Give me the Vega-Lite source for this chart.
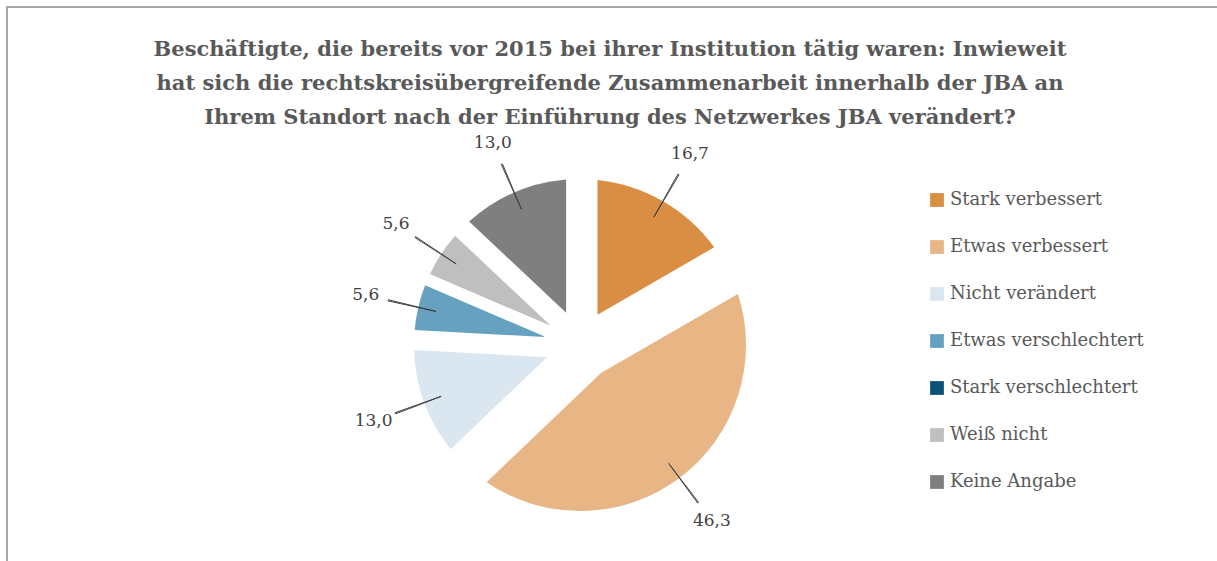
{
  "$schema": "https://vega.github.io/schema/vega-lite/v6.json",
  "width": 1260,
  "height": 600,
  "autosize": {"type": "none"},
  "padding": {"left": 7, "top": 7, "right": 0, "bottom": 0},
  "background": "white",
  "view": {"stroke": "#A6A6A6", "strokeWidth": 2, "fill": "white"},
  "title": {
    "text": [
      "Beschäftigte, die bereits vor 2015 bei ihrer Institution tätig waren: Inwieweit",
      "hat sich die rechtskreisübergreifende Zusammenarbeit innerhalb der JBA an",
      "Ihrem Standort nach der Einführung des Netzwerkes JBA verändert?"
    ],
    "font": "DejaVu Serif",
    "fontSize": 21,
    "fontWeight": "bold",
    "color": "#595959",
    "lineHeight": 34,
    "anchor": "middle",
    "frame": "group",
    "baseline": "top",
    "offset": -121,
    "dx": -27
  },
  "data": {
    "values": [
      {"kategorie": "Stark verbessert", "wert": 16.7, "rang": 1},
      {"kategorie": "Etwas verbessert", "wert": 46.3, "rang": 2},
      {"kategorie": "Nicht verändert", "wert": 13.0, "rang": 3},
      {"kategorie": "Etwas verschlechtert", "wert": 5.6, "rang": 4},
      {"kategorie": "Stark verschlechtert", "wert": 0, "rang": 5},
      {"kategorie": "Weiß nicht", "wert": 5.6, "rang": 6},
      {"kategorie": "Keine Angabe", "wert": 13.0, "rang": 7}
    ]
  },
  "encoding": {
    "theta": {"field": "wert", "type": "quantitative", "stack": true},
    "order": {"field": "rang", "type": "quantitative"}
  },
  "layer": [
    {
      "mark": {
        "type": "arc",
        "x": 573,
        "y": 338,
        "innerRadius": 35,
        "outerRadius": 166,
        "padAngle": {"expr": "2*asin(35*sin(PI*datum.wert/100.2)/sqrt(35*35+166*166))"}
      },
      "encoding": {
        "color": {
          "field": "kategorie",
          "type": "nominal",
          "scale": {
            "domain": ["Stark verbessert", "Etwas verbessert", "Nicht verändert", "Etwas verschlechtert", "Stark verschlechtert", "Weiß nicht", "Keine Angabe"],
            "range": ["#D98E43", "#E8B585", "#DAE7F0", "#66A2C0", "#0B5278", "#BFBFBF", "#7F7F7F"]
          },
          "legend": {
            "orient": "none",
            "legendX": 921,
            "legendY": 184,
            "title": null,
            "padding": 0,
            "symbolType": "square",
            "symbolSize": 190,
            "symbolStrokeWidth": 0,
            "labelFont": "DejaVu Serif",
            "labelFontSize": 18,
            "labelColor": "#595959",
            "labelOffset": 4,
            "labelLimit": 300,
            "rowPadding": 29
          }
        }
      }
    },
    {
      "transform": [{"filter": "datum.wert > 0"}],
      "mark": {
        "type": "arc",
        "x": 573,
        "y": 338,
        "innerRadius": 148,
        "outerRadius": 197,
        "fill": null,
        "stroke": "#404040",
        "strokeWidth": 1,
        "padAngle": {"expr": "2*asin(197*sin((2*PI*datum.wert/100.2 - 1.2/197)/2)/sqrt(148*148+197*197))"}
      }
    },
    {
      "transform": [{"filter": "datum.wert > 0"}],
      "mark": {
        "type": "text",
        "x": 573,
        "y": 338,
        "radius": 220,
        "font": "DejaVu Serif",
        "fontSize": 17,
        "color": "#404040"
      },
      "encoding": {
        "text": {"field": "wert", "type": "quantitative", "format": ".1f"}
      }
    }
  ],
  "config": {
    "locale": {"number": {"decimal": ",", "thousands": ".", "grouping": [3], "currency": ["", " €"]}}
  }
}
